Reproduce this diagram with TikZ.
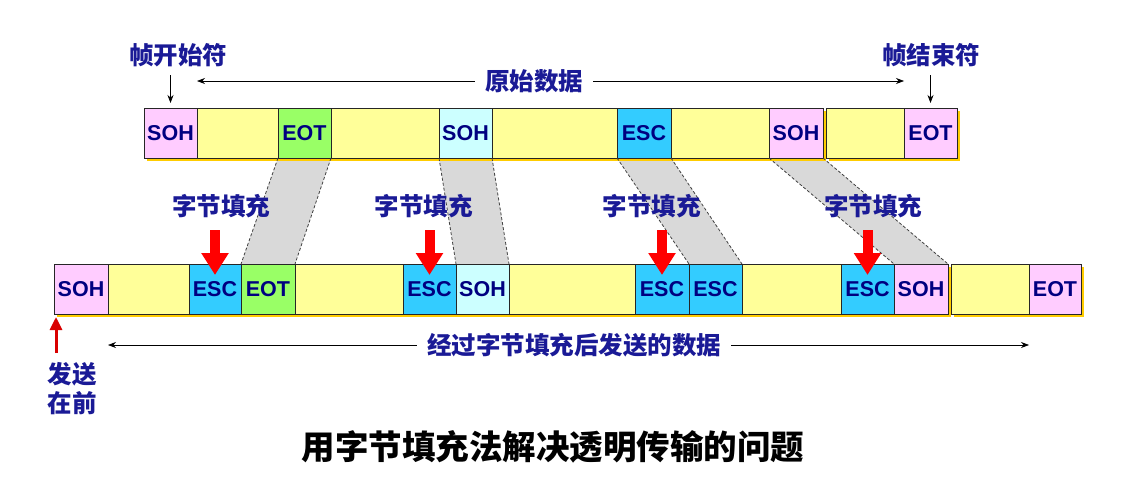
\documentclass[tikz,border=0pt]{standalone}
\usepackage{fontspec}
\setmainfont{Liberation Sans}
\newfontfamily\cjk{Noto Sans CJK SC}
\usetikzlibrary{arrows.meta}
\definecolor{jaune}{RGB}{255,255,153}
\definecolor{rose}{RGB}{255,204,255}
\definecolor{vert}{RGB}{153,255,102}
\definecolor{cyanclair}{RGB}{204,255,255}
\definecolor{bleu}{RGB}{51,204,255}
\definecolor{or}{RGB}{255,204,0}
\definecolor{marine}{RGB}{0,0,128}
\definecolor{encre}{RGB}{26,26,150}
\begin{document}
\begin{tikzpicture}[x=1pt,y=-1pt]
\tikzstyle{case} = [draw=black!85,line width=0.8pt,inner sep=0pt,outer sep=0pt,anchor=north west,minimum height=50pt,text=marine,font=\fontsize{21.5}{24}\selectfont\bfseries]
\tikzstyle{ombre} = [fill=or]
\tikzstyle{lien} = [fill=gray!30]
\tikzstyle{tirets} = [draw=black!75,line width=0.8pt,dash pattern=on 3pt off 2pt]
\tikzstyle{etiq} = [text=encre,font=\cjk\bfseries\fontsize{24.5}{29}\selectfont]
\tikzstyle{fleche} = [draw=black,line width=0.7pt,-{Stealth[length=8pt,width=6pt]}]
\tikzstyle{remplir} = [draw=red,line width=10pt,-{Triangle[length=22pt,width=26pt]}]
\tikzstyle{montee} = [draw=red!85!black,line width=3pt,-{Triangle[length=13pt,width=12pt]}]
\useasboundingbox (0,0) rectangle (1139,479);
%liens entre les deux trames
\fill[lien] (278,158) -- (331,158) -- (295,264) -- (241,264) -- cycle;
\fill[lien] (439,158) -- (492,158) -- (509,264) -- (456,264) -- cycle;
\fill[lien] (617,158) -- (671,158) -- (742,264) -- (689,264) -- cycle;
\fill[lien] (769,158) -- (823,158) -- (948,264) -- (894,264) -- cycle;
%ombres
\fill[ombre] (147,111) rectangle (826,161);
\fill[ombre] (829,111) rectangle (960,161);
\fill[ombre] (57,267) rectangle (951,317);
\fill[ombre] (954,267) rectangle (1084,317);
%trame d'origine
\foreach \xa/\w/\c/\t/\n in {144/53/rose/SOH/a1,197/81/jaune/{}/a2,278/53/vert/EOT/a3,331/108/jaune/{}/a4,439/53/cyanclair/SOH/a5,492/125/jaune/{}/a6,617/54/bleu/ESC/a7,671/98/jaune/{}/a8,769/54/rose/SOH/a9,826/78/jaune/{}/a10,904/53/rose/EOT/a11}
  \node[case,fill=\c,minimum width=\w pt] (\n) at (\xa,108) {\t};
%trame apres remplissage
\foreach \xa/\w/\c/\t/\n in {54/54/rose/SOH/b1,108/81/jaune/{}/b2,189/52/bleu/ESC/b3,241/54/vert/EOT/b4,295/108/jaune/{}/b5,403/53/bleu/ESC/b6,456/53/cyanclair/SOH/b7,509/126/jaune/{}/b8,635/54/bleu/ESC/b9,689/53/bleu/ESC/b10,742/99/jaune/{}/b11,841/53/bleu/ESC/b12,894/54/rose/SOH/b13,951/78/jaune/{}/b14,1029/52/rose/EOT/b15}
  \node[case,fill=\c,minimum width=\w pt] (\n) at (\xa,264) {\t};
%bords en tirets
\foreach \h/\b in {a3/b4,a5/b7,a7/b10,a9/b13}
  \draw[tirets] (\h.south west) -- (\b.north west) (\h.south east) -- (\b.north east);
%etiquettes du haut
\node[etiq] (t1) at (178,55) {帧开始符};
\node[etiq] (t2) at (931,55) {帧结束符};
\node[etiq,inner xsep=10pt] (o1) at (534,81) {原始数据};
\draw[fleche,shorten <=5pt,shorten >=5pt] (t1.south -| a1.north) -- (a1.north);
\draw[fleche,shorten <=5pt,shorten >=5pt] (t2.south -| a11.north) -- (a11.north);
\draw[fleche] (o1.west) -- (o1.west -| a1.east);
\draw[fleche] (o1.east) -- (o1.east -| a11.west);
%octets de remplissage
\node[etiq] (c1) at (221,206) {字节填充};
\node[etiq] (c2) at (423.5,206) {字节填充};
\node[etiq] (c3) at (651.5,206) {字节填充};
\node[etiq] (c4) at (873,206) {字节填充};
\foreach \b in {b3,b6,b9,b12}
  \draw[remplir] (\b.north) +(0,-34) -- +(0,11);
%etiquettes du bas
\node[etiq,inner xsep=10pt] (e1) at (574,345) {经过字节填充后发送的数据};
\draw[fleche] (e1.west) -- (e1.west -| b1.east);
\draw[fleche] (e1.east) -- (e1.east -| b15.west);
\node[etiq,align=left] (s1) at (72,389) {发送\\在前};
\draw[montee] (b1.south west) +(2,39) -- +(2,3);
\node[font=\cjk\bfseries\fontsize{33.5}{40}\selectfont] (titre) at (553,447) {用字节填充法解决透明传输的问题};
\end{tikzpicture}
\end{document}
